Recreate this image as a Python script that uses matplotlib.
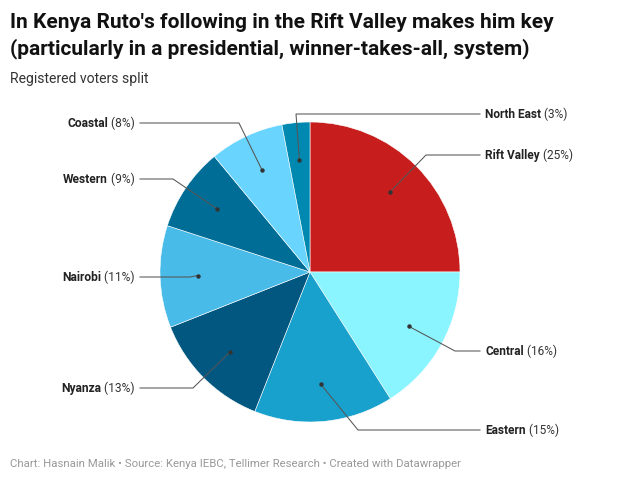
import numpy as np
import matplotlib
matplotlib.use("Agg")
import matplotlib.pyplot as plt

regions = ["Rift Valley", "Central", "Eastern", "Nyanza", "Nairobi", "Western", "Coastal", "North East"]
shares = [25, 16, 15, 13, 11, 9, 8, 3]
colors = ["#c71e1d", "#8af5ff", "#18a1cd", "#015780", "#48bbe8", "#006d97", "#69d5ff", "#0089b0"]
# label row (px from top) and elbow x (px) of each leader
label_y = [155, 351, 430, 388, 277, 179, 123, 114]
elbow_x = [426, 455, 358, 193, 190, 173, 239, 296]
title_lines = ["In Kenya Ruto's following in the Rift Valley makes him key",
               "(particularly in a presidential, winner-takes-all, system)"]
subtitle = "Registered voters split"
footer = "Chart: Hasnain Malik • Source: Kenya IEBC, Tellimer Research • Created with Datawrapper"

plt.rcParams["font.family"] = ["Roboto", "DejaVu Sans"]
W, H = 620, 480
fig = plt.figure(figsize=(W / 100, H / 100), dpi=100, facecolor="white")
ax = fig.add_axes([0, 0, 1, 1])
cx, cy, R = 310, H - 272, 150

ax.pie(shares, colors=colors, startangle=90, counterclock=False, center=(cx, cy), radius=R,
       frame=True, wedgeprops=dict(edgecolor="white", linewidth=0.4, alpha=1))
ax.set_xlim(0, W)
ax.set_ylim(0, H)
ax.set_aspect("equal")
ax.axis("off")

renderer = fig.canvas.get_renderer()
dark = "#222222"
grey = "#333333"
cum = np.cumsum([0] + shares)
for i, name in enumerate(regions):
    mid = np.deg2rad((cum[i] + cum[i + 1]) / 2 * 3.6)
    dx, dy = cx + 0.75 * R * np.sin(mid), cy + 0.75 * R * np.cos(mid)
    y = H - label_y[i]
    right = np.sin(mid) > 0 or name == "North East"
    end = 480 if right else 140
    ax.plot([dx, elbow_x[i], end], [dy, y, y], color="#555555", lw=0.75, zorder=5,
            solid_joinstyle="miter")
    ax.plot([dx], [dy], "o", color=grey, ms=3.2, mew=0, zorder=6)
    pct = f" ({shares[i]}%)"
    ty = y + 1
    if right:
        t = ax.text(485, ty, name, ha="left", va="center_baseline", fontsize=8.6, fontweight="bold", color=dark)
        bb = t.get_window_extent(renderer)
        ax.text(bb.x1, ty, pct, ha="left", va="center_baseline", fontsize=8.6, color="#333333")
    else:
        t = ax.text(135, ty, pct, ha="right", va="center_baseline", fontsize=8.65, color="#333333")
        bb = t.get_window_extent(renderer)
        ax.text(bb.x0, ty, name, ha="right", va="center_baseline", fontsize=8.65, fontweight="bold", color=dark)

ax.text(10, H - 21, title_lines[0], fontsize=15, fontweight="bold", color="#111111", va="center_baseline")
ax.text(10, H - 46.5, title_lines[1], fontsize=15, fontweight="bold", color="#111111", va="center_baseline")
ax.text(10, H - 78, subtitle, fontsize=10.1, color="#333333", va="center_baseline")
ax.text(10, H - 463, footer, fontsize=8.2, color="#999999", va="center_baseline")

fig.savefig("out.png", dpi=100, facecolor="white")
